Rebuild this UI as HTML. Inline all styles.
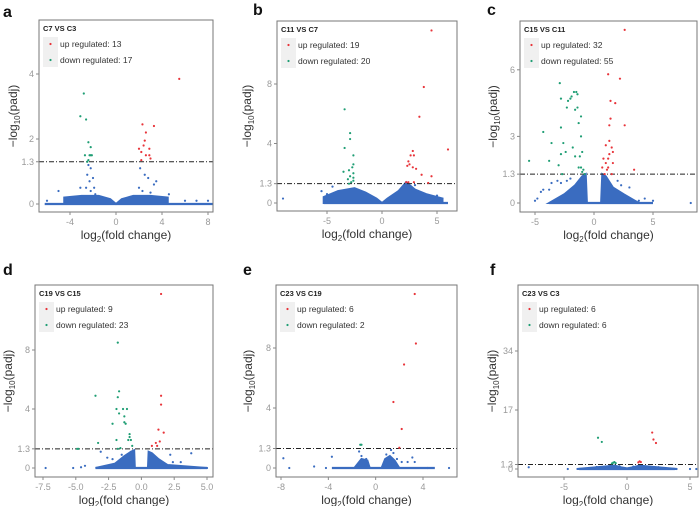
<!DOCTYPE html>
<html><head><meta charset="utf-8">
<style>
html,body{margin:0;padding:0;background:#fff;}
svg{display:block;font-family:"Liberation Sans",Arial,sans-serif;}
</style></head>
<body>
<svg id="fig" width="700" height="506" viewBox="0 0 700 506"></svg>
<script>
// ---------- DATA ----------
const panelLetters = ["a","b","c","d","e","f"];
const panelTitles = ["C7 VS C3","C11 VS C7","C15 VS C11","C19 VS C15","C23 VS C19","C23 VS C3"];
const upCounts = [13,19,32,9,6,6];
const downCounts = [17,20,55,23,2,6];
const xTicksA=[-4,0,4,8], xTicksB=[-5,0,5], xTicksC=[-5,0,5], xTicksD=[-7.5,-5,-2.5,0,2.5,5], xTicksE=[-8,-4,0,4], xTicksF=[-5,0,5];
const yTicksA=[0,1.3,2,4], yTicksB=[0,1.3,4,8], yTicksC=[0,1.3,3,6], yTicksD=[0,1.3,4,8], yTicksE=[0,1.3,4,8], yTicksF=[0,1.3,17,34];
const xTickLabelsD=["-7.5","-5.0","-2.5","0.0","2.5","5.0"];

const upA=[[5.5,3.85],[2.3,2.45],[3.3,2.4],[2.6,2.2],[2.5,1.95],[2.9,1.7],[2.0,1.7],[2.2,1.6],[2.6,1.5],[2.9,1.5],[2.4,1.8],[2.2,1.35],[3.0,1.4]];
const downA=[[-2.8,3.4],[-3.1,2.7],[-2.6,2.6],[-2.4,1.9],[-2.2,1.75],[-2.7,1.5],[-2.3,1.5],[-2.2,1.5],[-2.1,1.5],[-2.4,1.35],[-2.5,1.3]];
const nsA=[[-2.2,1.1],[-2.5,0.9],[-2,0.8],[-2.3,0.7],[-2.6,0.5],[-2.2,0.4],[-1.9,0.5],[-3.1,0.5],[-2.4,1.2],[2.1,1.1],[2.5,0.9],[2,0.5],[2.8,0.8],[3.5,0.7],[3.3,0.6],[2.3,0.4],[4.6,0.3],[-5,0.4],[-6,0.1],[6,0.1],[7,0.1],[8,0.1],[3,0.35],[-1.8,0.3]];
const cloudXA=[-4.5,-3,-1.5,-0.5,0,0.5,1.5,3,4.5], cloudYA=[0.2,0.25,0.25,0.15,0,0.15,0.25,0.25,0.2];

const upB=[[4.5,11.6],[3.8,7.8],[3.4,5.8],[6,3.6],[2.8,3.5],[2.6,3.2],[2.9,3.2],[2.4,2.8],[2.5,2.6],[2.8,2.4],[3.1,2.3],[3.6,1.9],[4.5,1.8],[2.2,1.4],[2.4,1.4],[2.9,1.4],[4.2,1.35],[2.3,2.5]];
const downB=[[-3.4,6.3],[-2.9,4.7],[-2.9,4.3],[-3.4,3.7],[-2.6,3.2],[-2.6,2.6],[-2.7,2.4],[-3.5,2.1],[-3,2.2],[-2.6,2],[-2.9,1.8],[-3.1,1.6],[-2.6,1.7],[-2.6,1.5],[-2.8,1.4],[-3,1.3]];
const nsB=[[-9,0.3],[-5.5,0.8],[5.5,0.3],[4.8,0.4],[-4.5,1.1],[3,1.2],[5,0.5],[-5,0.6]];
const cloudXB=[-5.3,-4,-2.5,-1.5,-0.5,0,0.5,1.5,2.2,3,4,5.5], cloudYB=[0.4,0.8,1.0,0.7,0.3,0,0.3,0.8,1.4,0.9,0.6,0.3];

const upC=[[2.6,7.8],[1.2,5.8],[2.2,5.6],[1.4,4.6],[1.8,4.5],[1.4,3.8],[1.3,3.5],[2.6,3.5],[1.3,2.8],[1.0,2.6],[1.5,2.5],[1.6,2.3],[0.8,2.0],[1.2,2.0],[1.0,1.8],[1.6,1.8],[0.7,1.6],[1.1,1.5],[3.4,1.5],[0.9,1.3],[1.5,1.3],[1.2,1.6],[1.3,2.2]];
const downC=[[-2.9,5.4],[-1.5,5.0],[-1.7,5.0],[-1.4,4.9],[-1.9,4.8],[-2.0,4.7],[-2.2,4.6],[-2.8,4.7],[-2.3,4.3],[-1.4,4.3],[-1.6,4.2],[-1.1,3.9],[-1.3,3.6],[-2.8,3.4],[-1.1,3.0],[-4.3,3.2],[-3.6,2.7],[-2.6,2.7],[-1.8,2.5],[-1.0,2.3],[-2.4,2.3],[-1.2,2.1],[-1.6,2.1],[-2.8,2.2],[-5.5,1.9],[-3.8,1.9],[-3.0,1.7],[-1.1,1.6],[-0.9,1.5],[-1.0,1.4],[-1.3,1.6],[-2.7,1.3],[-0.8,1.3]];
const nsC=[[-5,0.1],[-4.8,0.2],[-4.5,0.5],[-4.3,0.6],[-3.6,0.9],[-3.1,1.0],[-2.8,0.9],[-2.3,1.0],[2.3,0.8],[3,0.7],[3.8,0.1],[4.3,0.2],[5,0.1],[8.2,0],[-3.8,0.6],[-2,1.1],[2.0,1.0]];
const cloudXC=[-3.8,-2.5,-1.6,-1.0,-0.7,-0.6,0.6,0.7,1.0,1.6,2.5,3.8], cloudYC=[0,0.4,0.8,1.2,1.3,0,0,1.3,1.2,0.7,0.4,0];

const upD=[[1.5,11.8],[1.5,4.9],[1.5,4.3],[1.7,2.4],[1.3,2.6],[1.4,1.8],[1.1,1.7],[0.8,1.5],[1.2,1.5]];
const downD=[[-1.8,8.5],[-1.7,5.2],[-3.5,4.9],[-1.8,4.8],[-1.9,4.0],[-1.4,4.0],[-1.1,4.0],[-1.7,3.7],[-1.3,3.5],[-2.2,3.0],[-1.3,3.1],[-1.2,3.0],[-0.9,2.3],[-0.9,2.1],[-1.9,1.9],[-1.0,1.9],[-0.8,1.9],[-3.3,1.7],[-4.9,1.3],[-4.8,1.3],[-1.8,1.3],[-1.6,1.35],[-0.7,1.5]];
const nsD=[[-7.3,0],[-5.2,0],[-4.6,0.05],[-4.3,0.15],[-3.1,1.1],[-2.6,0.7],[-2.2,0.6],[-1.5,0.9],[2.2,0.9],[2.4,0.4],[3.0,0.4],[3.8,1.0],[4.5,0],[5.0,0]];
const cloudXD=[-3.5,-2,-1.3,-0.8,-0.55,-0.5,0.5,0.55,0.8,1.3,2,5], cloudYD=[0,0.3,0.8,1.1,1.2,0,0,1.1,1.0,0.6,0.2,0];

const upE=[[3.3,11.6],[3.4,8.3],[2.4,6.9],[1.5,4.4],[2.2,2.6],[2.0,1.35]];
const downE=[[-1.3,1.55],[-1.2,1.55]];
const nsE=[[-7.8,0.65],[-7.3,0],[-5.2,0.1],[-4.2,0],[-3.7,0.75],[-1.4,1.1],[-1.2,0.8],[-0.9,0.5],[-0.7,0.3],[-1.0,0.2],[0.9,0.9],[1.3,1.2],[1.5,1.0],[1.1,0.6],[0.8,0.4],[1.8,0.6],[2.2,0.4],[2.7,0.4],[3.1,0.7],[3.3,0.4],[4.4,0],[6.2,0],[1.4,0.3],[-0.8,0.6]];
const cloudXE=[-1.8,-1.2,-0.7,-0.5,0.5,0.8,1.2,1.6,2], cloudYE=[0,0.6,0.5,0,0,0.6,0.8,0.5,0];

const upF=[[2.0,10.5],[2.1,8.5],[2.3,7.5],[1.0,2.2],[0.9,1.9],[1.1,2.0]];
const downF=[[-2.3,9.0],[-2.0,7.8],[-1.1,1.8],[-1.0,2.0],[-0.9,1.7],[-1.2,1.6]];
const nsF=[[-7.8,0.5],[-4.7,0],[-2.4,0.6],[-0.6,0.8],[0.5,0.7],[1.7,0.6],[2.5,0.5],[3.9,0],[5,0],[5.5,0]];
const cloudXF=[-4,-1.5,-1,-0.5,0,0.5,1,1.5,4], cloudYF=[0,0.8,1,0.5,0.2,0.5,1,0.8,0];

// ---------- LAYOUT ----------
const panels=[
 {box:[39,20,213,212], lx:3, ly:17, xd:[-4,8], xr:[70,208], yd:[0,4], yr:[204,74], xt:xTicksA, yt:yTicksA, up:upA, dn:downA, ns:nsA, cx:cloudXA, cy:cloudYA, base:[-6.2,8.5], yl:13},
 {box:[277,21,457,211], lx:253, ly:15, xd:[-5,5], xr:[327,437], yd:[0,8], yr:[203,84], xt:xTicksB, yt:yTicksB, up:upB, dn:downB, ns:nsB, cx:cloudXB, cy:cloudYB, base:[-5.3,6], yl:247},
 {box:[520,21,697,212], lx:487, ly:15, xd:[-5,5], xr:[535,653], yd:[0,6], yr:[203,69.8], xt:xTicksC, yt:yTicksC, up:upC, dn:downC, ns:nsC, cx:cloudXC, cy:cloudYC, base:[-3.8,5], yl:493},
 {box:[35,285,213,477], lx:3, ly:275, xd:[-7.5,5], xr:[43,207], yd:[0,8], yr:[468,350], xt:xTicksD, yt:yTicksD, xtl:xTickLabelsD, up:upD, dn:downD, ns:nsD, cx:cloudXD, cy:cloudYD, base:[-3.5,5], yl:8},
 {box:[276,285,457,477], lx:243, ly:275, xd:[-8,4], xr:[281,423], yd:[0,8], yr:[468,348], xt:xTicksE, yt:yTicksE, up:upE, dn:downE, ns:nsE, cx:cloudXE, cy:cloudYE, base:[-3.7,5], yl:248},
 {box:[518,285,698,477], lx:490, ly:275, xd:[-5,5], xr:[564,690], yd:[0,34], yr:[469,351], xt:xTicksF, yt:yTicksF, up:upF, dn:downF, ns:nsF, cx:cloudXF, cy:cloudYF, base:[-3.8,3.8], yl:492}
];
const NS="http://www.w3.org/2000/svg";
const svg=document.getElementById('fig');
function mk(tag,attrs,parent,text){const e=document.createElementNS(NS,tag);for(const k in attrs)e.setAttribute(k,attrs[k]);if(text!==undefined)e.textContent=text;(parent||svg).appendChild(e);return e;}
const BLUE="#3a6cc0", RED="#e8343a", GREEN="#1f9e74";

panels.forEach((p,i)=>{
  const g=mk('g',{});
  
  
  const X=v=>p.xr[0]+(v-p.xd[0])*(p.xr[1]-p.xr[0])/(p.xd[1]-p.xd[0]);
  const Y=v=>p.yr[0]+(v-p.yd[0])*(p.yr[1]-p.yd[0]*0-p.yr[0])/(p.yd[1]-p.yd[0]);
  const [x0,y0,x1,y1]=p.box;
  // clip
  const cid='clip'+i;
  const cp=mk('clipPath',{id:cid},g); mk('rect',{x:x0,y:y0,width:x1-x0,height:y1-y0},cp);
  // letter
  const L=mk('text',{x:p.lx,y:p.ly,'font-size':16,'font-weight':'bold',fill:'#111'},g,panelLetters[i]);
  
  
  // plot area
  const pg=mk('g',{'clip-path':'url(#'+cid+')'},g);
  // cloud
  let d='M'+X(p.cx[0])+','+Y(0);
  p.cx.forEach((v,k)=>{d+=' L'+X(v)+','+Y(p.cy[k]);});
  d+=' L'+X(p.cx[p.cx.length-1])+','+Y(0)+' Z';
  const cl=mk('path',{d:d,fill:BLUE,stroke:BLUE,'stroke-width':2},pg);
  
  
  const bl=mk('line',{x1:X(p.base[0]),x2:X(p.base[1]),y1:Y(0),y2:Y(0),stroke:BLUE,'stroke-width':2.2},pg);
  
  
  p.ns.forEach(pt=>{const c=mk('circle',{cx:X(pt[0]),cy:Y(pt[1]),r:1.1,fill:BLUE},pg);
    
    });
  // threshold
  const th=mk('line',{x1:x0,x2:x1,y1:Y(1.3),y2:Y(1.3),stroke:'#222','stroke-width':1,'stroke-dasharray':'5,2,1,2'},pg);
  
  
  p.dn.forEach(pt=>{const c=mk('circle',{cx:X(pt[0]),cy:Y(pt[1]),r:1.1,fill:GREEN},pg);
    
    });
  p.up.forEach(pt=>{const c=mk('circle',{cx:X(pt[0]),cy:Y(pt[1]),r:1.1,fill:RED},pg);
    
    });
  // frame
  const fr=mk('rect',{x:x0,y:y0,width:x1-x0,height:y1-y0,fill:'none',stroke:'#777','stroke-width':1},g);
  
  
  // ticks
  p.xt.forEach((v,k)=>{const x=X(v);
    mk('line',{x1:x,x2:x,y1:y1,y2:y1+3,stroke:'#888'},g);
    const t=mk('text',{x:x,y:y1+13,'font-size':9,fill:'#999','text-anchor':'middle'},g,p.xtl?p.xtl[k]:String(v));
    
    });
  p.yt.forEach(v=>{const y=Y(v);
    mk('line',{x1:x0-3,x2:x0,y1:y,y2:y,stroke:'#888'},g);
    const t=mk('text',{x:x0-5,y:y+3,'font-size':9,fill:'#999','text-anchor':'end'},g,String(v));
    
    });
  // axis titles
  const xt=mk('text',{x:(x0+x1)/2,y:y1+27,'font-size':12,fill:'#333','text-anchor':'middle'},g);
  
  
  mk('tspan',{},xt,'log');mk('tspan',{'font-size':8,dy:3},xt,'2');mk('tspan',{dy:-3},xt,'(fold change)');
  const yc=(y0+y1)/2;
  const yt=mk('text',{x:p.yl,y:yc,'font-size':12,fill:'#333','text-anchor':'middle',transform:'rotate(-90 '+p.yl+' '+yc+')',dy:'4'},g);
  
  
  mk('tspan',{},yt,'\u2212log');mk('tspan',{'font-size':8,dy:3},yt,'10');mk('tspan',{dy:-3},yt,'(padj)');
  // title & legend
  const tt=mk('text',{x:x0+4,y:y0+11,'font-size':7.5,'font-weight':'bold',fill:'#222'},g,panelTitles[i]);
  
  
  const lg=mk('g',{},g);
  
  
  mk('rect',{x:x0+4,y:y0+17,width:15,height:30,fill:'#f0f0f0'},lg);
  mk('circle',{cx:x0+11.5,cy:y0+24,r:1.1,fill:RED},lg);
  mk('circle',{cx:x0+11.5,cy:y0+40,r:1.1,fill:GREEN},lg);
  const e1=mk('text',{x:x0+21,y:y0+27,'font-size':8.5,fill:'#333'},lg,'up regulated: '+upCounts[i]);
  
  
  const e2=mk('text',{x:x0+21,y:y0+43,'font-size':8.5,fill:'#333'},lg,'down regulated: '+downCounts[i]);
  
  
});
</script>
</body></html>
